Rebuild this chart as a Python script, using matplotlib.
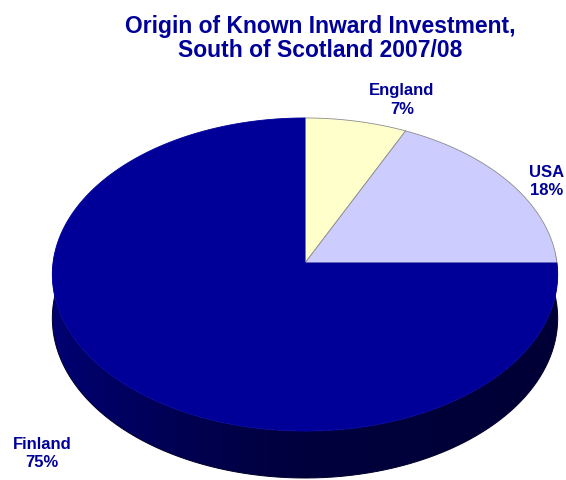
import numpy as np
import matplotlib
matplotlib.use("Agg")
import matplotlib.pyplot as plt
from matplotlib.patches import Polygon

plt.rcParams['font.family'] = ['Liberation Sans', 'DejaVu Sans']

# investment share by country of origin (%), clockwise from 12 o'clock
countries = ['England', 'USA', 'Finland']
shares = [7, 18, 75]
top_colors = ['#ffffcc', '#ccccff', '#000099']
title_lines = ['Origin of Known Inward Investment,', 'South of Scotland 2007/08']

NAVY = '#000099'

# pie geometry in pixel space (perspective tilted disc)
CX, CY = 305.0, 264.0      # pie centre
A, B = 252.0, 155.7        # horizontal / vertical radius
K = 0.0735                 # perspective strength
DEPTH = 43.5               # thickness of the disc


def project(theta_deg, drop=0.0):
    t = np.radians(theta_deg)
    u, v = np.cos(t), np.sin(t)
    w = 1.0 + K * v
    x = CX + A * u / w
    y = CY - B * v / w + drop / w
    return x, y


fig = plt.figure(figsize=(5.66, 4.81), dpi=100)
ax = fig.add_axes([0, 0, 1, 1])
ax.set_xlim(0, 566)
ax.set_ylim(481, 0)
ax.axis('off')

# side wall, front half only (all of it belongs to the big slice)
thetas = np.linspace(176, 364, 300)
tx, ty = project(thetas)
bx, by = project(thetas, DEPTH)
side = Polygon(list(zip(tx, ty)) + list(zip(bx[::-1], by[::-1])),
               closed=True, facecolor='none', edgecolor='none')
ax.add_patch(side)

# horizontal shading: lighter on the left, darkest just right of centre
xs = np.linspace(0, 566, 567)
rel = (xs - CX) / A
blue = np.where(rel < 0, 62 + 52 * np.clip(-rel, 0, 1) ** 1.3,
                62 - 8 * np.clip(rel, 0, 1))
grad = np.zeros((2, xs.size, 3))
grad[..., 2] = blue / 255.0
img = ax.imshow(grad, extent=(0, 566, 481, 0), aspect='auto',
                interpolation='bilinear', zorder=1)
img.set_clip_path(side)

# outline of the bottom rim
ax.plot(bx, by, color='#00002a', lw=0.7, zorder=2)

# top face wedges
start = 90.0
for name, share, col in zip(countries, shares, top_colors):
    sweep = share / 100.0 * 360.0
    ts = np.linspace(start, start - sweep, max(int(sweep) * 2, 4))
    px, py = project(ts)
    pts = [(CX, CY)] + list(zip(px, py))
    ec = '#8c8c8c' if col != NAVY else NAVY
    ax.add_patch(Polygon(pts, closed=True, facecolor=col, edgecolor=ec,
                         lw=0.6, joinstyle='round', zorder=3))
    start -= sweep

# slice labels, one line for the name and one for the share
label_pos = {'England': (402, 95), 'USA': (547, 177), 'Finland': (42, 449)}
for name, share in zip(countries, shares):
    x, y = label_pos[name]
    ax.text(x, y, name, ha='center', va='baseline',
            fontsize=12, fontweight='bold', color=NAVY, zorder=4)
    ax.text(x, y + 18.5, f'{share}%', ha='center', va='baseline',
            fontsize=12, fontweight='bold', color=NAVY, zorder=4)

# title
ax.text(320, 33, title_lines[0], ha='center', va='baseline',
        fontsize=16.5, fontweight='bold', color=NAVY)
ax.text(320, 57, title_lines[1], ha='center', va='baseline',
        fontsize=16.5, fontweight='bold', color=NAVY)

fig.savefig('out.png', dpi=100)
